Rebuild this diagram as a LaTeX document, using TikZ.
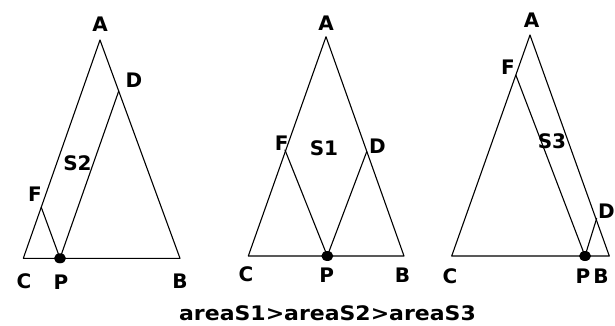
\documentclass[tikz,border=0pt]{standalone}
\usepackage{fontspec}
\setmainfont{DejaVu Sans}
\usetikzlibrary{calc,shapes.geometric}
\begin{document}
\begin{tikzpicture}[x=1pt,y=-1pt,
  lbl/.style={font=\bfseries\fontsize{20}{20}\selectfont, anchor=base, inner sep=0pt},
  edge/.style={line width=1.1pt, line cap=round, line join=round},
  dot/.style={ellipse, fill=black, inner sep=0pt, minimum width=12pt, minimum height=10pt}]
\useasboundingbox[fill=white] (0,0) rectangle (615,325);
% ---------- triangle 1 (S2) ----------
\coordinate (A1) at (100,40);
\coordinate (C1) at (23.3,258.3);
\coordinate (B1) at (180,258.3);
\coordinate (F1) at ($(C1)!0.234!(A1)$);
\coordinate (D1) at ($(B1)!0.766!(A1)$);
\draw[edge] (C1) -- (A1) -- (B1) -- cycle;
\draw[edge] (F1) -- (60,258.3) -- (D1);
\node[dot] (P1) at (60,258.3) {};
\node[lbl] (lA1) at (100,31.7) {A};
\node[lbl] (lD1) at (134,87) {D};
\node[lbl] (lS2) at (77.5,170) {S2};
\node[lbl] (lF1) at (35,201.7) {F};
\node[lbl] (lC1) at (24,288) {C};
\node[lbl] (lP1) at (61,289) {P};
\node[lbl] (lB1) at (180,288) {B};
% ---------- triangle 2 (S1) ----------
\coordinate (A2) at (326,36.7);
\coordinate (C2) at (248.3,256);
\coordinate (B2) at (404,256);
\coordinate (F2) at (285,150);
\coordinate (D2) at (366.7,151.7);
\draw[edge] (C2) -- (A2) -- (B2) -- cycle;
\draw[edge] (F2) -- (327.3,256) -- (D2);
\node[dot] (P2) at (327.3,256) {};
\node[lbl] (lA2) at (326,30) {A};
\node[lbl] (lF2) at (281.7,150) {F};
\node[lbl] (lS1) at (324,155) {S1};
\node[lbl] (lD2) at (377.5,153) {D};
\node[lbl] (lC2) at (246,281.7) {C};
\node[lbl] (lP2) at (326.7,282) {P};
\node[lbl] (lB2) at (402.5,282) {B};
% ---------- triangle 3 (S3) ----------
\coordinate (A3) at (530,35);
\coordinate (C3) at (451.7,256);
\coordinate (B3) at (609.3,256);
\coordinate (F3) at ($(C3)!0.819!(A3)$);
\coordinate (D3) at (596.7,218.3);
\draw[edge] (C3) -- (A3) -- (B3) -- cycle;
\draw[edge] (F3) -- (585,256) -- (D3);
\node[dot] (P3) at (585,256) {};
\node[lbl] (lA3) at (531.7,27.3) {A};
\node[lbl] (lF3) at (508,74) {F};
\node[lbl] (lS3) at (552,148) {S3};
\node[lbl] (lD3) at (606.5,218) {D};
\node[lbl] (lC3) at (450,283) {C};
\node[lbl] (lP3) at (583,283) {P};
\node[lbl] (lB3) at (601,283) {B};
% ---------- caption ----------
\node[lbl] (cap) at (327.5,320) {\scalebox{1.1}[1]{areaS1>areaS2>areaS3}};
\end{tikzpicture}
\end{document}
